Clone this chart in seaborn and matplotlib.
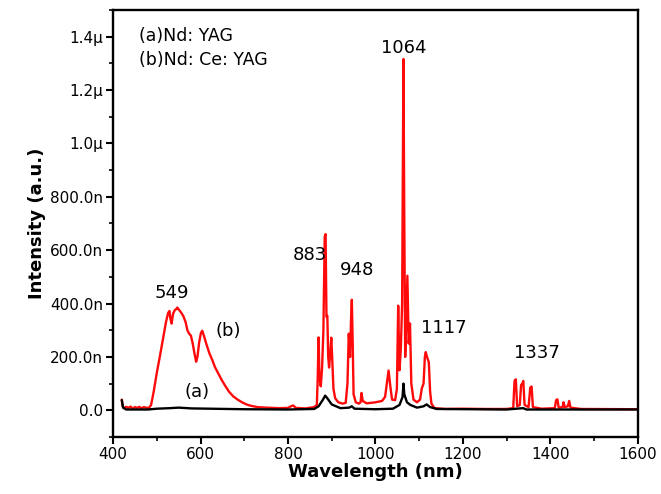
import matplotlib
matplotlib.use("Agg")
import matplotlib.pyplot as plt
from matplotlib.ticker import MultipleLocator, FuncFormatter
import seaborn as sns
import pandas as pd

# --- data (intensity in units of 1e-9, "n") ---
red_wl = [420, 422, 425, 430, 435, 440, 445, 450, 455, 460, 465, 470, 475, 482, 487, 493, 500, 508, 515, 521,
          526, 529, 531, 534, 537, 541, 545, 547, 550, 555, 561, 566, 570, 574, 578, 582, 586, 590, 593, 597,
          601, 604, 608, 614, 620, 627, 633, 640, 648, 656, 665, 675, 685, 695, 705, 715, 730, 750, 780, 800,
          808, 812, 818, 840, 860, 866, 868, 870, 872, 875, 878, 881, 884, 886, 888, 890, 892, 894, 896, 899,
          901, 904, 908, 915, 925, 932, 936, 939, 942, 944, 946, 948, 950, 955, 962, 966, 968, 971, 980, 1000,
          1015, 1022, 1026, 1030, 1034, 1038, 1045, 1049, 1052, 1055, 1058, 1061, 1064, 1066, 1068, 1070, 1073, 1076, 1079, 1082,
          1087, 1095, 1102, 1106, 1110, 1113, 1115, 1118, 1122, 1125, 1128, 1135, 1160, 1200, 1250, 1300, 1315, 1318, 1321, 1324,
          1330, 1333, 1336, 1338, 1341, 1350, 1354, 1357, 1360, 1380, 1410, 1413, 1416, 1419, 1428, 1430, 1433, 1440, 1443, 1446,
          1470, 1600]
red_int = [40, 15, 8, 13, 9, 14, 6, 12, 9, 13, 7, 12, 10, 9, 20, 70, 140, 210, 275, 330,
           365, 372, 345, 325, 360, 375, 380, 385, 378, 368, 352, 330, 300, 287, 280, 252, 215, 182, 200, 255,
           290, 298, 278, 245, 215, 188, 162, 140, 115, 93, 70, 52, 40, 30, 22, 17, 12, 10, 8, 9,
           16, 18, 9, 7, 12, 20, 120, 273, 120, 90, 160, 300, 650, 660, 350, 354, 200, 160, 200, 272,
           200, 80, 45, 30, 25, 28, 100, 287, 200, 330, 414, 250, 60, 30, 25, 30, 65, 35, 26, 30,
           35, 50, 100, 149, 90, 40, 38, 80, 392, 150, 230, 400, 1316, 700, 200, 300, 504, 250, 325, 100,
           40, 30, 40, 82, 100, 200, 218, 200, 180, 70, 25, 8, 5, 6, 5, 5, 8, 110, 116, 15,
           20, 95, 100, 110, 20, 12, 85, 89, 12, 6, 8, 38, 41, 10, 12, 30, 12, 15, 35, 10,
           5, 4]

blk_wl = [420, 423, 430, 480, 500, 530, 550, 580, 620, 700, 800, 860, 870, 880, 885, 890, 900, 920, 940, 946,
          952, 1000, 1040, 1055, 1062, 1064, 1066, 1072, 1080, 1095, 1110, 1117, 1125, 1140, 1300, 1338, 1345, 1600]
blk_int = [38, 10, 3, 3, 6, 8, 10, 7, 6, 4, 3, 5, 15, 40, 55, 45, 22, 8, 10, 15,
           6, 4, 6, 20, 50, 100, 60, 30, 20, 10, 15, 22, 12, 5, 3, 8, 3, 3]

peak_labels = ["549", "883", "948", "1064", "1117", "1337"]
peak_x = [535, 850, 958, 1065, 1157, 1369]
peak_y = [440, 582, 526, 1358, 310, 213]

curve_labels = ["(b)", "(a)"]
curve_x = [663, 592]
curve_y = [298, 67]

legend_lines = ["(a)Nd: YAG", "(b)Nd: Ce: YAG"]

red_df = pd.DataFrame({"Wavelength": red_wl, "Intensity": red_int})
blk_df = pd.DataFrame({"Wavelength": blk_wl, "Intensity": blk_int})

sns.set_theme(style="ticks")
plt.rcParams["font.family"] = ["DejaVu Sans"]
plt.rcParams["text.color"] = "black"
plt.rcParams["axes.labelcolor"] = "black"
plt.rcParams["xtick.color"] = "black"
plt.rcParams["ytick.color"] = "black"

fig = plt.figure(figsize=(6.61, 4.94), dpi=100)
ax = fig.add_axes([0.171, 0.1154, 0.794, 0.8646])

sns.lineplot(data=red_df, x="Wavelength", y="Intensity", ax=ax, color="#ff0a0a",
             lw=1.7, estimator=None, sort=False)
sns.lineplot(data=blk_df, x="Wavelength", y="Intensity", ax=ax, color="black",
             lw=1.7, estimator=None, sort=False)

ax.set_xlim(400, 1600)
ax.set_ylim(-100, 1500)
ax.xaxis.set_major_locator(MultipleLocator(200))
ax.xaxis.set_minor_locator(MultipleLocator(100))
ax.yaxis.set_major_locator(MultipleLocator(200))
ax.yaxis.set_minor_locator(MultipleLocator(100))


def fmt(v, pos):
    if abs(v) < 1e-9:
        return "0.0"
    if v < 0:
        return ""
    if v < 1000:
        return f"{v:.1f}n"
    return f"{v/1000:.1f}\u00b5"


ax.yaxis.set_major_formatter(FuncFormatter(fmt))
ax.tick_params(axis="both", which="major", direction="out", length=5, width=1.5,
               labelsize=11, colors="black", labelcolor="black", top=False, right=False, pad=2)
ax.tick_params(axis="both", which="minor", direction="out", length=3, width=1.2,
               colors="black", top=False, right=False)
for s in ax.spines.values():
    s.set_linewidth(1.7)
    s.set_color("black")
    s.set_visible(True)

ax.set_xlabel("Wavelength (nm)", fontsize=13, fontweight="bold", labelpad=1, color="black")
ax.set_ylabel("Intensity (a.u.)", fontsize=13, fontweight="bold", labelpad=3, color="black")

for t, x, y in zip(peak_labels, peak_x, peak_y):
    ax.text(x, y, t, fontsize=13, ha="center", va="center", color="black")
for t, x, y in zip(curve_labels, curve_x, curve_y):
    ax.text(x, y, t, fontsize=13, ha="center", va="center", color="black")

ax.text(0.05, 0.938, legend_lines[0], transform=ax.transAxes, fontsize=12.5,
        ha="left", va="center", color="black")
ax.text(0.05, 0.882, legend_lines[1], transform=ax.transAxes, fontsize=12.5,
        ha="left", va="center", color="black")

fig.savefig("out.png", dpi=100)
